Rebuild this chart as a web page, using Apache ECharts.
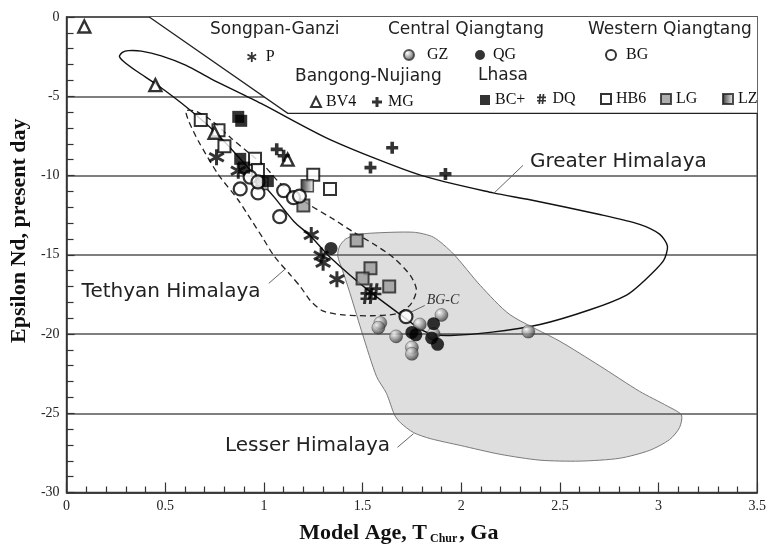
<!DOCTYPE html>
<html><head><meta charset="utf-8">
<script src="https://cdn.jsdelivr.net/npm/echarts/dist/echarts.min.js"></script>
<style>html,body{margin:0;padding:0;background:#fff}#c{width:769px;height:550px}</style>
</head><body><div id="c"></div>
<script>
// ---------- data ----------
const xTickLabels = ['0','0.5','1','1.5','2','2.5','3','3.5'];
const yTickLabels = ['-30','-25','-20','-15','-10','-5','0'];

const P   = [[0.76,-8.85],[0.87,-9.7],[1.24,-13.75],[1.29,-15.05],[1.30,-15.5],[1.37,-16.55]];
const GZ  = [[1.59,-19.3],[1.58,-19.6],[1.67,-20.15],[1.79,-19.4],[1.90,-18.8],[1.86,-20.0],[1.75,-20.85],[1.75,-21.25],[2.34,-19.85]];
const QG  = [[1.34,-14.6],[1.75,-19.9],[1.77,-20.05],[1.86,-19.35],[1.85,-20.25],[1.88,-20.65]];
const BG  = [[0.88,-10.85],[0.97,-11.1],[0.93,-10.1],[0.97,-10.4],[1.10,-10.95],[1.15,-11.4],[1.18,-11.3],[1.08,-12.6],[1.72,-18.9]];
const BV4 = [[0.09,-0.6],[0.45,-4.3],[0.75,-7.3],[1.12,-9.0]];
const MG  = [[1.065,-8.35],[1.10,-8.75],[1.54,-9.5],[1.65,-8.25],[1.92,-9.9]];
const BC  = [[0.87,-6.3],[0.885,-6.55],[0.88,-8.95],[0.90,-9.5],[1.02,-10.35]];
const DQ  = [[1.53,-17.6],[1.555,-17.3]];
const HB6 = [[0.68,-6.5],[0.77,-7.15],[0.80,-8.15],[0.955,-8.95],[0.97,-9.65],[1.25,-9.95],[1.335,-10.85]];
const LG  = [[1.20,-11.9],[1.47,-14.1],[1.54,-15.85],[1.50,-16.5],[1.635,-17.0]];
const LZ  = [[0.99,-10.5],[1.22,-10.65]];

const greaterHimalaya = [[0.268,-2.48],[0.283,-2.23],[0.313,-2.12],[0.379,-2.15],[0.480,-2.45],[0.606,-3.05],[0.732,-3.9],[0.985,-5.45],[1.338,-7.75],[1.793,-9.98],[2.162,-11.10],[2.348,-11.53],[2.702,-12.46],[2.904,-13.08],[3.005,-13.70],[3.045,-14.45],[3.025,-15.37],[2.929,-16.62],[2.838,-17.54],[2.652,-18.47],[2.399,-19.40],[2.146,-19.90],[1.944,-20.09],[1.859,-20.02],[1.793,-19.71],[1.727,-19.10],[1.540,-17.36],[1.338,-15.19],[1.237,-13.83],[1.152,-12.90],[1.051,-11.35],[0.919,-9.49],[0.758,-7.32],[0.616,-5.77],[0.465,-4.34],[0.354,-3.41],[0.288,-2.79]];
const tethyanHimalaya = [[0.611,-5.89],[0.657,-5.95],[0.732,-6.51],[0.833,-7.63],[0.934,-8.68],[1.000,-9.36],[1.086,-10.54],[1.222,-11.78],[1.354,-12.77],[1.455,-13.58],[1.556,-14.32],[1.657,-15.19],[1.742,-16.30],[1.773,-17.23],[1.742,-18.16],[1.672,-18.72],[1.540,-18.85],[1.389,-18.78],[1.298,-18.54],[1.237,-17.92],[1.187,-17.05],[1.136,-16.30],[1.051,-15.07],[0.995,-13.95],[0.934,-12.77],[0.869,-11.53],[0.768,-9.92],[0.667,-7.81],[0.621,-6.63],[0.606,-6.08]];
const lesserHimalaya = [[1.374,-15.07],[1.384,-14.45],[1.414,-14.01],[1.465,-13.76],[1.540,-13.64],[1.758,-13.58],[1.859,-13.89],[1.960,-14.94],[2.096,-16.93],[2.247,-18.78],[2.500,-20.46],[2.702,-22.01],[2.904,-23.62],[3.045,-24.55],[3.116,-25.11],[3.106,-25.91],[3.056,-26.66],[2.955,-27.34],[2.803,-27.84],[2.601,-28.02],[2.399,-27.96],[2.197,-27.59],[1.995,-27.03],[1.843,-26.60],[1.758,-26.22],[1.692,-25.60],[1.662,-25.11],[1.621,-23.74],[1.571,-22.69],[1.500,-20.02],[1.439,-17.54],[1.399,-16.00]];
const legendBox = [[0.419,0],[1.121,-6.08],[3.5,-6.08],[3.5,0]];
const legendBoxEdge = [[0.419,0],[1.121,-6.08],[3.5,-6.08]];

const fieldNames = ['Greater Himalaya','Tethyan Himalaya','Lesser Himalaya'];
const fieldLabelPos = [[2.348,-9.11],[0.076,-17.36],[0.803,-27.03]];
const fieldLeaders = [[[2.313,-9.36],[2.162,-11.16]],[[1.025,-16.80],[1.111,-15.87]],[[1.677,-27.15],[1.758,-26.29]]];
const bgcLabel = 'BG-C';
const bgcLabelPos = [1.825,-17.85];
const bgcLeader = [[1.745,-18.62],[1.815,-18.2]];

const groupTitles = ['Songpan-Ganzi','Central Qiangtang','Western Qiangtang','Bangong-Nujiang','Lhasa'];

// ---------- styles ----------
const SERIF = '"Liberation Serif","Times New Roman",serif';
const SANS = '"DejaVu Sans",sans-serif';
const ASTERISK = 'path://M8.2,0L11.8,0L11.8,20L8.2,20Z M2.24,3.44L19.56,13.44L17.76,16.56L0.44,6.56Z M0.44,13.44L17.76,3.44L19.56,6.56L2.24,16.56Z';
const HASH = 'path://M5.8,0L9.2,0L7.2,20L3.8,20Z M12.3,0L15.7,0L13.7,20L10.3,20Z M1,5.2L19,5.2L19,8.4L1,8.4Z M1,11.8L19,11.8L19,15L1,15Z';
const PLUS = 'path://M7,0L13,0L13,7L20,7L20,13L13,13L13,20L7,20L7,13L0,13L0,7L7,7Z';
const sphere = {type:'radial',x:0.35,y:0.32,r:0.75,colorStops:[{offset:0,color:'#ffffff'},{offset:0.45,color:'#a0a0a0'},{offset:1,color:'#262626'}]};
const lzGrad = {type:'linear',x:0,y:0,x2:1,y2:0,colorStops:[{offset:0,color:'#000'},{offset:1,color:'#fff'}]};

function polySeries(name, pts, style, z, closed, smooth){
  return {type:'custom', name:name, z:z, silent:true, data:[[0,0]],
    renderItem:function(params, api){
      const p = pts.map(d=>api.coord(d));
      return {type: closed ? 'polygon' : 'polyline', shape:{points:p, smooth:smooth}, style:style};
    }};
}
function sc(name, data, symbol, size, itemStyle){
  return {type:'scatter', name:name, data:data, symbol:symbol, symbolSize:size, itemStyle:itemStyle, z:5};
}
function lg(name, cx, cy, pad){
  return {data:[name], left:cx-5, top:cy-8, itemWidth:10, itemHeight:10, padding:0, selectedMode:false,
    textStyle:{fontFamily:SERIF, fontSize:16, color:'#111', padding:[0,0,0,pad]}};
}
function heading(i, left, top){
  return {type:'text', left:left, top:top, z:20, style:{text:groupTitles[i], font:'17px '+SANS, fill:'#222'}};
}

const chart = echarts.init(document.getElementById('c'), null, {renderer:'canvas'});
const option = {
  backgroundColor:'#fff',
  animation:false,
  grid:{left:65, right:11, top:17, bottom:49, show:true, borderColor:'#333', borderWidth:1.5, backgroundColor:'transparent'},
  xAxis:{type:'value', min:0, max:3.5, interval:0.5,
    axisLine:{show:true, onZero:false, lineStyle:{color:'#333', width:1.5}},
    axisTick:{show:true, inside:true, length:10, lineStyle:{color:'#333', width:1.2}},
    minorTick:{show:true, splitNumber:5, length:6, lineStyle:{color:'#333', width:1.2}},
    splitLine:{show:false},
    axisLabel:{margin:7, fontFamily:SERIF, fontSize:14, color:'#222', formatter:(v,i)=>xTickLabels[i]},
    name:'{a|Model Age, T}{s| Chur}{a|, Ga}', nameLocation:'middle', nameGap:29,
    nameTextStyle:{padding:[0,26,0,0], rich:{a:{fontFamily:SERIF, fontSize:22, fontWeight:'bold', color:'#111', lineHeight:24},
                        s:{fontFamily:SERIF, fontSize:12, fontWeight:'bold', color:'#111', lineHeight:24, padding:[11,2,0,0]}}}
  },
  yAxis:{type:'value', min:-30, max:0, interval:5,
    axisLine:{show:true, onZero:false, lineStyle:{color:'#333', width:1.5}},
    axisTick:{show:true, inside:true, length:8, lineStyle:{color:'#333', width:1.2}},
    minorTick:{show:true, splitNumber:5, length:7, lineStyle:{color:'#333', width:1.2}},
    splitLine:{show:true, lineStyle:{color:'#555', width:1.5}},
    axisLabel:{margin:7, fontFamily:SERIF, fontSize:14, color:'#222', formatter:(v,i)=>yTickLabels[i]},
    name:'Epsilon Nd, present day', nameLocation:'middle', nameGap:33,
    nameTextStyle:{fontFamily:SERIF, fontSize:22, fontWeight:'bold', color:'#111', padding:[0,0,0,48]}
  },
  legend:[
    lg('P',252,57,4), lg('GZ',408,55,8), lg('QG',480,55,3), lg('BG',610,55,5),
    lg('BV4',315,102,0), lg('MG',377,102,1),
    lg('BC+',485,100,0), lg('DQ',542,99,1), lg('HB6',605,99,0), lg('LG',665,99,0), lg('LZ',727,99,0)
  ],
  graphic:[ heading(0,210,21), heading(1,388,21), heading(2,588,21), heading(3,295,68), heading(4,478,67) ],
  series:[
    polySeries('lesser', lesserHimalaya, {fill:'#dedede', stroke:'#7a7a7a', lineWidth:1}, -1, true, 0.25),
    polySeries('legendBox', legendBox, {fill:'#fff', stroke:null}, 1, true, 0),
    polySeries('legendEdge', legendBoxEdge, {fill:null, stroke:'#222', lineWidth:1.3}, 1, false, 0),
    polySeries('greater', greaterHimalaya, {fill:null, stroke:'#111', lineWidth:1.4}, 2, true, 0.25),
    polySeries('tethyan', tethyanHimalaya, {fill:null, stroke:'#222', lineWidth:1.3, lineDash:[6,4]}, 2, true, 0.25),
    {type:'custom', name:'labels', silent:true, z:3, data:[[0,0]],
      renderItem:function(params, api){
        const ch = [];
        fieldNames.forEach((t,i)=>{
          const p = api.coord(fieldLabelPos[i]);
          ch.push({type:'text', x:p[0], y:p[1], style:{text:t, font:'20px '+SANS, fill:'#222', verticalAlign:'middle', align:'left'}});
          const a = api.coord(fieldLeaders[i][0]), b = api.coord(fieldLeaders[i][1]);
          ch.push({type:'line', shape:{x1:a[0],y1:a[1],x2:b[0],y2:b[1]}, style:{stroke:'#666', lineWidth:1}});
        });
        const q = api.coord(bgcLabelPos);
        ch.push({type:'text', x:q[0], y:q[1], style:{text:bgcLabel, font:'italic 14px '+SERIF, fill:'#333', verticalAlign:'middle'}});
        const a = api.coord(bgcLeader[0]), b = api.coord(bgcLeader[1]);
        ch.push({type:'line', shape:{x1:a[0],y1:a[1],x2:b[0],y2:b[1]}, style:{stroke:'#666', lineWidth:1}});
        return {type:'group', children:ch};
      }},
    sc('HB6', HB6, 'rect', 12, {color:'#fff', borderColor:'#000', borderWidth:2}),
    sc('LG', LG, 'rect', 12, {color:'#9a9a9a', borderColor:'#222', borderWidth:2}),
    sc('LZ', LZ, 'rect', 12, {color:lzGrad, borderColor:'#222', borderWidth:1.5}),
    sc('BG', BG, 'circle', 13, {color:'#fff', borderColor:'#000', borderWidth:2.2}),
    sc('BC+', BC, 'rect', 12, {color:'#000', borderColor:'#000', borderWidth:0}),
    sc('BV4', BV4, 'triangle', 12, {color:'#fff', borderColor:'#000', borderWidth:2.4}),
    sc('MG', MG, PLUS, 12, {color:'#000'}),
    sc('P', P, ASTERISK, 16, {color:'#000'}),
    sc('DQ', DQ, HASH, 16, {color:'#000'}),
    sc('GZ', GZ, 'circle', 13, {color:sphere, borderColor:'#333', borderWidth:0.5}),
    sc('QG', QG, 'circle', 13, {color:'#000'})
  ]
};
chart.setOption(option);
</script>
</body></html>
